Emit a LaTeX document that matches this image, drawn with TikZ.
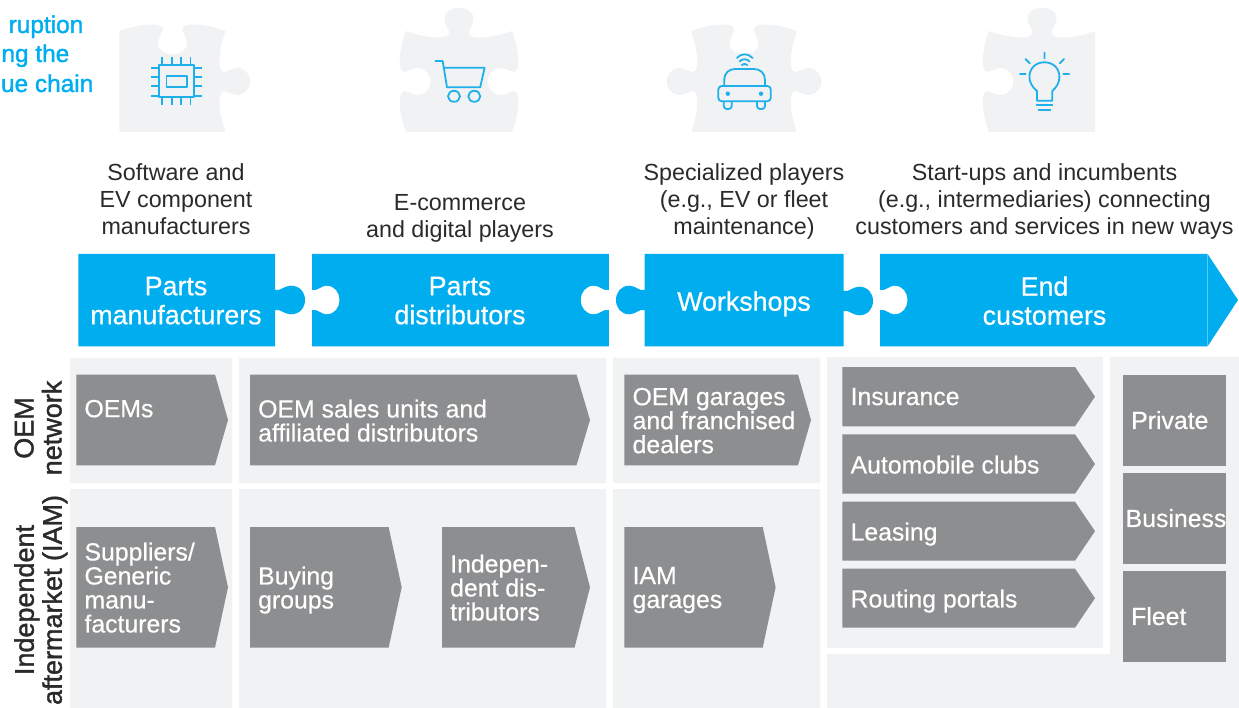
\documentclass[tikz,border=0pt]{standalone}
\usepackage{fontspec}
\setmainfont{Liberation Sans}
\newfontfamily\medA[FakeBold=0.5]{Liberation Sans}
\newfontfamily\medB[FakeBold=1.4]{Liberation Sans}
\definecolor{vcblue}{HTML}{00AEEF}
\definecolor{vcpanel}{HTML}{F1F2F4}
\definecolor{vcgray}{HTML}{8D8E90}
\definecolor{vctext}{HTML}{2A2A2A}
\definecolor{vcicon}{HTML}{1FB0EC}
% horizontal puzzle knob on a vertical edge at X, centre Y; d=outward sign, s=traversal sign, L=reach
\newcommand\knob[5]{
 -- ({#1},{#2-#4*10})
 .. controls ({#1+#3*5},{#2-#4*8.5}) and ({#1+#3*9},{#2-#4*14.3}) .. ({#1+#3*#5*0.53},{#2-#4*14.3})
 .. controls ({#1+#3*#5*0.82},{#2-#4*14.3}) and ({#1+#3*#5},{#2-#4*8}) .. ({#1+#3*#5},{#2})
 .. controls ({#1+#3*#5},{#2+#4*8}) and ({#1+#3*#5*0.82},{#2+#4*14.3}) .. ({#1+#3*#5*0.53},{#2+#4*14.3})
 .. controls ({#1+#3*9},{#2+#4*14.3}) and ({#1+#3*5},{#2+#4*8.5}) .. ({#1},{#2+#4*10})
}
% top edge of a puzzle piece, centre cx, t=+1 tab, t=-1 socket (runs left to right)
\newcommand\topedge[2]{
 .. controls ({#1-43},{31+#2*3.5}) and ({#1-32},{31+#2*6.5}) .. ({#1-20},{31+#2*6.5})
 .. controls ({#1-11},{31+#2*6.5}) and ({#1-9},{31+#2*3}) .. ({#1-10},{31})
 .. controls ({#1-12},{31-#2*4}) and ({#1-14.5},{31-#2*9}) .. ({#1-14.5},{31-#2*13})
 .. controls ({#1-14.5},{31-#2*19}) and ({#1-8},{31-#2*23}) .. ({#1},{31-#2*23})
 .. controls ({#1+8},{31-#2*23}) and ({#1+14.5},{31-#2*19}) .. ({#1+14.5},{31-#2*13})
 .. controls ({#1+14.5},{31-#2*9}) and ({#1+12},{31-#2*4}) .. ({#1+10},{31})
 .. controls ({#1+9},{31+#2*3}) and ({#1+11},{31+#2*6.5}) .. ({#1+20},{31+#2*6.5})
 .. controls ({#1+32},{31+#2*6.5}) and ({#1+43},{31+#2*3.5}) .. ({#1+53},{31})
}
% side edge at X, d=outward sign, s=+1 downward
\newcommand\sideedge[3]{
 .. controls ({#1-#2*3.5},{81.5+#3*(-42)}) and ({#1-#2*6.3},{81.5+#3*(-30)}) .. ({#1-#2*6.3},{81.5+#3*(-19)})
 .. controls ({#1-#2*6.3},{81.5+#3*(-14)}) and ({#1-#2*4},{81.5+#3*(-10)}) .. ({#1-#2*2.7},{81.5+#3*(-10)})
 .. controls ({#1+#2*1},{81.5+#3*(-8.5)}) and ({#1+#2*5},{81.5+#3*(-13.5)}) .. ({#1+#2*11.5},{81.5+#3*(-13.5)})
 .. controls ({#1+#2*19},{81.5+#3*(-13.5)}) and ({#1+#2*24.5},{81.5+#3*(-7)}) .. ({#1+#2*24.5},{81.5})
 .. controls ({#1+#2*24.5},{81.5+#3*7}) and ({#1+#2*19},{81.5+#3*13.5}) .. ({#1+#2*11.5},{81.5+#3*13.5})
 .. controls ({#1+#2*5},{81.5+#3*13.5}) and ({#1+#2*1},{81.5+#3*8.5}) .. ({#1-#2*2.7},{81.5+#3*10})
 .. controls ({#1-#2*4},{81.5+#3*10}) and ({#1-#2*6.3},{81.5+#3*14}) .. ({#1-#2*6.3},{81.5+#3*19})
 .. controls ({#1-#2*6.3},{81.5+#3*30}) and ({#1-#2*3.5},{81.5+#3*42}) .. ({#1},{132})
}
\newcommand\sideedgeup[2]{
 .. controls ({#1-#2*3.5},{81.5+42}) and ({#1-#2*6.3},{81.5+30}) .. ({#1-#2*6.3},{81.5+19})
 .. controls ({#1-#2*6.3},{81.5+14}) and ({#1-#2*4},{81.5+10}) .. ({#1-#2*2.7},{81.5+10})
 .. controls ({#1+#2*1},{81.5+8.5}) and ({#1+#2*5},{81.5+13.5}) .. ({#1+#2*11.5},{81.5+13.5})
 .. controls ({#1+#2*19},{81.5+13.5}) and ({#1+#2*24.5},{81.5+7}) .. ({#1+#2*24.5},{81.5})
 .. controls ({#1+#2*24.5},{81.5-7}) and ({#1+#2*19},{81.5-13.5}) .. ({#1+#2*11.5},{81.5-13.5})
 .. controls ({#1+#2*5},{81.5-13.5}) and ({#1+#2*1},{81.5-8.5}) .. ({#1-#2*2.7},{81.5-10})
 .. controls ({#1-#2*4},{81.5-10}) and ({#1-#2*6.3},{81.5-14}) .. ({#1-#2*6.3},{81.5-19})
 .. controls ({#1-#2*6.3},{81.5-30}) and ({#1-#2*3.5},{81.5-42}) .. ({#1},{31})
}
\newcommand\chev[8]{
 \fill[vcgray] (#2,#5) -- (#3,#5) -- (#4,{(#5+#6)/2}) -- (#3,#6) -- (#2,#6) -- cycle;
 \node[graylabel,anchor=west] (#1) at ({#2+8},{#7+2.5}) {#8};
}
\newcommand\gbox[7]{
 \fill[vcgray] (#2,#4) rectangle (#3,#5);
 \node[graylabel,anchor=west] (#1) at ({#2+#6},{(#4+#5)/2+2.5}) {#7};
}
\tikzset{
 lbl/.style={inner sep=0pt,align=center,execute at begin node={\rule{0pt}{17pt}},execute at end node={\rule[-6pt]{0pt}{6pt}}},
 graylabel/.style={lbl,align=left,text=white,font=\medA\fontsize{24.8}{24}\selectfont},
 barlabel/.style={lbl,text=white,font=\medA\fontsize{26.8}{29}\selectfont},
 toplabel/.style={lbl,text=vctext,font=\fontsize{23.3}{27}\selectfont},
 sidelabel/.style={lbl,rotate=90,text=vctext,font=\medB\fontsize{27}{28}\selectfont},
 titlelabel/.style={inner sep=0pt,anchor=base east,text=vcblue,font=\medB\fontsize{24.4}{30}\selectfont},
 icon/.style={draw=vcicon,line width=1.8pt,line join=round},
 iconcap/.style={icon,line cap=round}
}
\begin{document}
\begin{tikzpicture}[x=1pt,y=-1pt]
\useasboundingbox (0,0) rectangle (1239,708);
% title
\node[titlelabel] (t1) at (83.5,33) {ruption};
\node[titlelabel] (t2) at (69.5,62) {ng the};
\node[titlelabel] (t3) at (93.5,92) {ue chain};
% puzzle pieces
\fill[vcpanel] (119.4,31) \topedge{172.5}{-1} \sideedge{225.7}{1}{1} -- (119.4,132) -- cycle;
\fill[vcpanel] (406,31) \topedge{459}{1} \sideedge{512}{-1}{1} -- (406,132) \sideedgeup{406}{1} -- cycle;
\fill[vcpanel] (691,31) \topedge{744}{-1} \sideedge{797}{1}{1} -- (691,132) \sideedgeup{691}{-1} -- cycle;
\fill[vcpanel] (989,31) \topedge{1042}{1} -- (1095,132) -- (989,132) \sideedgeup{989}{1} -- cycle;
% chip
\draw[icon] (159.3,65) rectangle (193.7,97.3);
\draw[icon] (166.4,76.3) rectangle (186.6,86.7);
\foreach \px in {162,172,181,190.5}{\draw[icon] (\px,57.3) -- (\px,65) (\px,97.3) -- (\px,105.5);}
\foreach \py in {67.7,76.7,86,95.7}{\draw[icon] (151.4,\py) -- (159.3,\py) (193.7,\py) -- (201.6,\py);}
% cart
\draw[icon] (434.8,61) -- (442.7,61) -- (447,87.3) -- (480.2,87.3) -- (484.6,67.7) -- (444.7,67.7);
\draw[icon] (454,96.3) ellipse [x radius=6,y radius=5.5];
\draw[icon] (474.3,96.3) ellipse [x radius=6,y radius=5.5];
% car
\draw[icon,rounded corners=3.5pt] (718.3,86) rectangle (770.8,101.3);
\draw[icon] (724.2,86) -- (724.2,80) .. controls (724.2,73) and (729,69) .. (735,69) -- (754,69) .. controls (760,69) and (765,73) .. (765,80) -- (765,86);
\fill[vcicon] (727.8,93.7) circle (2.2) (761,93.7) circle (2.2);
\draw[icon,rounded corners=3pt] (723.8,101.3) -- (723.8,109) -- (731.7,109) -- (731.7,101.3);
\draw[icon,rounded corners=3pt] (757,101.3) -- (757,109) -- (765,109) -- (765,101.3);
\draw[iconcap] (737,58) .. controls (741,53) and (748,53) .. (752.6,58);
\draw[iconcap] (739.5,61.5) .. controls (742,58.5) and (747,58.5) .. (749.5,61.5);
\draw[iconcap] (741.8,65) .. controls (743,63.5) and (746,63.5) .. (747.2,65);
% bulb
\draw[iconcap] (1037,100.7) -- (1037,91) .. controls (1032,87) and (1029.4,82) .. (1029.4,77) .. controls (1029.4,68) and (1036,62.3) .. (1044.4,62.3) .. controls (1053,62.3) and (1059.4,68) .. (1059.4,77) .. controls (1059.4,82) and (1057,87) .. (1052.3,91) -- (1052.3,100.7) -- cycle;
\draw[iconcap] (1036.5,105.3) -- (1052.3,105.3) (1038.5,109.7) -- (1050.3,109.7);
\draw[iconcap] (1044.4,52.5) -- (1044.4,58.5) (1020,74) -- (1025.8,74) (1063.3,74) -- (1069.3,74) (1025.5,59) -- (1029.8,63.3) (1064,59) -- (1059.8,63.3);
% top labels
\node[toplabel] (s1) at (176,202) {Software and\\EV component\\manufacturers};
\node[toplabel] (s2) at (460,218.5) {E-commerce\\and digital players};
\node[toplabel] (s3) at (744,202) {Specialized players\\(e.g., EV or fleet\\maintenance)};
\node[toplabel] (s4) at (1044.5,202) {Start-ups and incumbents\\(e.g., intermediaries) connecting\\customers and services in new ways};
% blue bars
\fill[vcblue] (78.4,254) -- (275,254) \knob{275}{300}{1}{1}{30} -- (275,346.3) -- (78.4,346.3) -- cycle;
\fill[vcblue] (312,254) -- (608.8,254) \knob{608.8}{300}{-1}{1}{28} -- (608.8,346.3) -- (312,346.3) \knob{312}{300}{1}{-1}{27.4} -- cycle;
\fill[vcblue] (644.6,254) -- (843.6,254) \knob{843.6}{301}{1}{1}{29.4} -- (843.6,346.3) -- (644.6,346.3) \knob{644.6}{300}{-1}{-1}{28.6} -- cycle;
\fill[vcblue] (880,254) -- (1207.6,254) -- (1238,300) -- (1207.6,346.3) -- (880,346.3) \knob{880}{300}{1}{-1}{27.4} -- cycle;
\draw[white,opacity=.35,line width=.6pt] (1207.6,254) -- (1207.6,346.3);
\node[barlabel] (b1) at (176,303.5) {Parts\\manufacturers};
\node[barlabel] (b2) at (460,303.5) {Parts\\distributors};
\node[barlabel] (b3) at (744,304) {Workshops};
\node[barlabel] (b4) at (1044.5,303.5) {End\\customers};
% panels
\fill[vcpanel] (70,358) rectangle (232,483) (70,489) rectangle (232,708);
\fill[vcpanel] (239,358) rectangle (606,483) (239,489) rectangle (606,708);
\fill[vcpanel] (613,358) rectangle (820,483) (613,489) rectangle (820,708);
\fill[vcpanel] (827,357) rectangle (1103,648);
\fill[vcpanel] (1110,357) -- (1239,357) -- (1239,708) -- (827,708) -- (827,654) -- (1110,654) -- cycle;
% side labels
\node[sidelabel] (r1) at (41,428) {OEM\\network};
\node[sidelabel] (r2) at (41,600) {Independent\\aftermarket (IAM)};
% chevrons
\chev{c1}{76.3}{215}{228}{374.5}{465.3}{409}{OEMs}
\chev{c2}{250}{576.5}{590}{374.5}{465.3}{421}{OEM sales units and\\affiliated distributors}
\chev{c3}{76.3}{215}{228}{527}{647.7}{588}{Suppliers/\\Generic\\manu-\\facturers}
\chev{c4}{250}{388.6}{401.7}{527}{647.7}{588}{Buying\\groups}
\chev{c5}{442}{574.5}{590}{527}{647.7}{588}{Indepen-\\dent dis-\\tributors}
\chev{c6}{624.4}{798}{811}{374.5}{465.3}{421}{OEM garages\\and franchised\\dealers}
\chev{c7}{624.4}{762.7}{775.6}{527}{647.7}{588}{IAM\\garages}
\chev{c8}{842.4}{1075}{1095}{367}{426.3}{397}{Insurance}
\chev{c9}{842.4}{1075}{1095}{434.3}{493.7}{465}{Automobile clubs}
\chev{c10}{842.4}{1075}{1095}{501.7}{560.7}{532}{Leasing}
\chev{c11}{842.4}{1075}{1095}{568.7}{627.7}{599}{Routing portals}
\gbox{g1}{1123}{1226}{375}{466}{8}{Private}
\gbox{g2}{1123}{1226}{473}{564}{2.5}{Business}
\gbox{g3}{1123}{1226}{571}{662}{8}{Fleet}
\end{tikzpicture}
\end{document}
